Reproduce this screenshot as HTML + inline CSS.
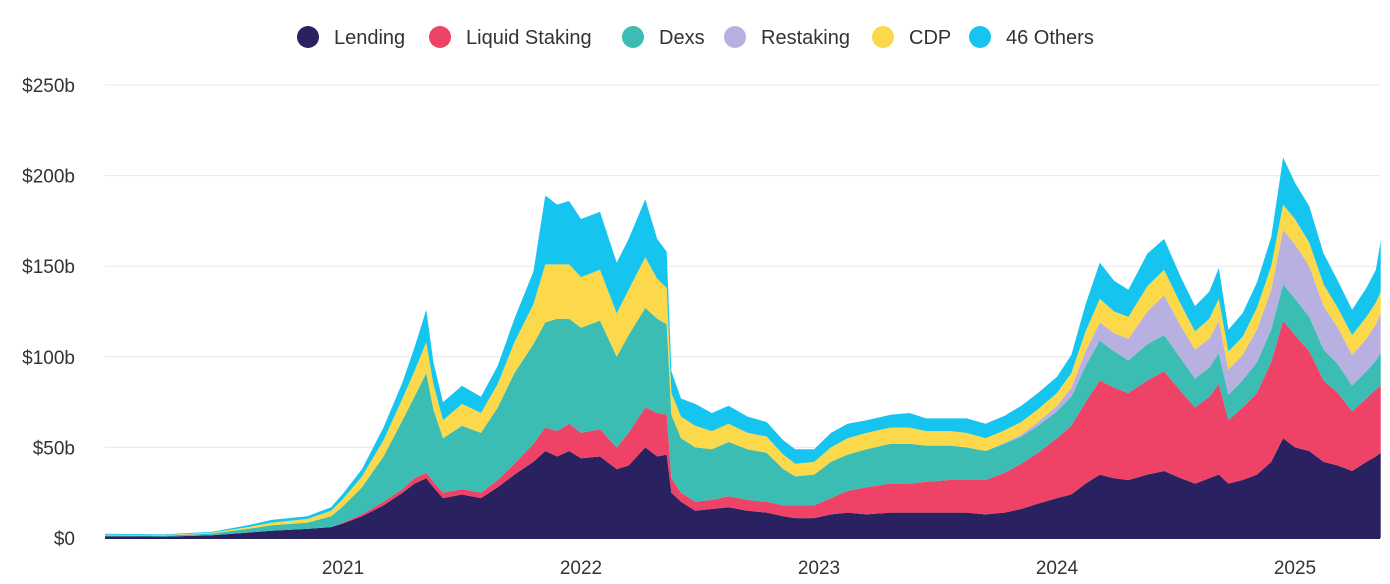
<!DOCTYPE html>
<html><head><meta charset="utf-8">
<style>
body{margin:0;background:#fff;font-family:"Liberation Sans",sans-serif;}
svg{display:block}
</style></head>
<body>
<svg id="chart" width="1390" height="584"></svg>
<script>
const dates=[2020.00,2020.25,2020.45,2020.6,2020.7,2020.85,2020.95,2021.0,2021.08,2021.17,2021.25,2021.3,2021.35,2021.38,2021.42,2021.5,2021.58,2021.65,2021.72,2021.8,2021.85,2021.9,2021.95,2022.0,2022.08,2022.15,2022.2,2022.27,2022.32,2022.36,2022.38,2022.42,2022.48,2022.55,2022.62,2022.7,2022.78,2022.85,2022.9,2022.98,2023.05,2023.12,2023.2,2023.3,2023.38,2023.45,2023.55,2023.62,2023.7,2023.78,2023.85,2023.92,2024.0,2024.06,2024.12,2024.18,2024.24,2024.3,2024.38,2024.45,2024.52,2024.58,2024.64,2024.68,2024.72,2024.78,2024.84,2024.9,2024.95,2025.0,2025.06,2025.12,2025.18,2025.24,2025.3,2025.34,2025.36];
const lending=[1,0.8,1.5,3,4,5,6,8,12,18,25,30,33,28,22,24,22,28,35,42,48,45,48,44,45,38,40,50,45,46,25,20,15,16,17,15,14,12,11,11,13,14,13,14,14,14,14,14,13,14,16,19,22,24,30,35,33,32,35,37,33,30,33,35,30,32,35,42,55,50,48,42,40,37,42,45,47];
const liquidStaking=[0,0,0,0,0,0,0,0.5,1,2,2,3,3,3,3,3,3,4,6,10,13,14,15,14,15,12,18,22,24,22,8,5,5,5,6,6,6,6,7,7,9,12,15,16,16,17,18,18,19,22,25,28,33,38,45,52,50,48,52,55,48,42,45,50,35,40,45,55,65,62,55,45,40,33,35,37,37];
const dexs=[0.5,0.5,1,2,3,3.5,6,9,15,25,38,45,55,40,30,35,33,40,50,55,58,62,58,58,60,50,54,55,52,50,35,30,30,28,30,28,27,20,16,17,20,20,21,22,22,20,19,18,16,16,15,15,15,16,20,22,20,18,20,20,18,16,16,17,14,15,17,18,20,20,19,17,16,14,15,16,18];
const restaking=[0,0,0,0,0,0,0,0,0,0,0,0,0,0,0,0,0,0,0,0,0,0,0,0,0,0,0,0,0,0,0,0,0,0,0,0,0,0,0,0,0,0,0,0,0,0,0,0,0,0.5,1,2,3,5,8,10,10,12,18,22,18,16,16,18,14,14,18,22,30,30,28,24,20,17,18,20,22];
const cdp=[0.3,0.3,0.5,1,1.5,2,3,4,6,9,12,14,17,14,10,12,11,13,17,22,32,30,30,28,28,24,25,28,22,20,12,12,12,10,10,9,9,8,7,7,8,9,9,9,9,8,8,8,7,7,7,7,7,8,11,13,12,12,14,14,12,10,11,12,10,10,12,13,14,14,13,12,11,11,12,12,12];
const others=[0.5,0.4,0.5,1,1.5,1.5,2,3,4,7,9,13,18,12,10,10,9,10,13,18,38,33,35,32,32,28,28,32,22,20,12,10,12,10,10,9,8,8,8,7,8,8,7,7,8,7,7,8,8,8,9,9,9,10,15,20,17,15,18,17,15,14,15,17,12,13,14,16,26,20,20,17,15,14,16,18,28];
const series=[lending,liquidStaking,dexs,restaking,cdp,others];
const names=["lending","liquid-staking","dexs","restaking","cdp","others"];
const colors=["#2a2160","#ee4266","#3cbdb3","#b8b0e0","#fbd94b","#16c4f0"];
const yTicks=[0,50,100,150,200,250];
const yLabels=["$0","$50b","$100b","$150b","$200b","$250b"];
const xTicks=[2021,2022,2023,2024,2025];
const legendLabels=["Lending","Liquid Staking","Dexs","Restaking","CDP","46 Others"];

const NS="http://www.w3.org/2000/svg";
const svg=document.getElementById('chart');
const X0=105,X1=1380,Y0=538,Y1=85;
const xs=t=>X0+(t-2020)*238;
const ys=v=>Y0-(v/250)*(Y0-Y1);
function mk(tag,attrs){const e=document.createElementNS(NS,tag);for(const k in attrs)e.setAttribute(k,attrs[k]);svg.appendChild(e);return e;}

yTicks.forEach((v,i)=>{
  if(v>0){const g=mk('line',{x1:X0,x2:X1,y1:ys(v),y2:ys(v),stroke:'#e8e8e8','stroke-width':1});
  
  }
  const t=mk('text',{x:75,y:ys(v)+7,'text-anchor':'end','font-size':19,fill:'#333'});
  t.textContent=yLabels[i];
  
  
});
xTicks.forEach(yr=>{
  const t=mk('text',{x:xs(yr),y:574,'text-anchor':'middle','font-size':19,fill:'#333'});
  t.textContent=String(yr);
  
  
});

let base=dates.map(()=>0);
series.forEach((s,si)=>{
  const top=base.map((b,i)=>b+s[i]);
  let d='M'+dates.map((t,i)=>xs(t).toFixed(1)+','+ys(top[i]).toFixed(1)).join('L');
  for(let i=dates.length-1;i>=0;i--)d+='L'+xs(dates[i]).toFixed(1)+','+ys(base[i]).toFixed(1);
  d+='Z';
  const p=mk('path',{d:d,fill:colors[si]});
  
  
  base=top;
});
const bl=mk('line',{x1:X0,x2:X1,y1:Y0,y2:Y0,stroke:'#2a2160','stroke-width':2});



const legendX=[308,440,633,735,883,980];
legendLabels.forEach((lab,i)=>{
  const c=mk('circle',{cx:legendX[i],cy:37,r:11,fill:colors[i]});
  
  
  const t=mk('text',{x:legendX[i]+26,y:44,'font-size':20,fill:'#333'});
  t.textContent=lab;
  
  
});
</script>
</body></html>
